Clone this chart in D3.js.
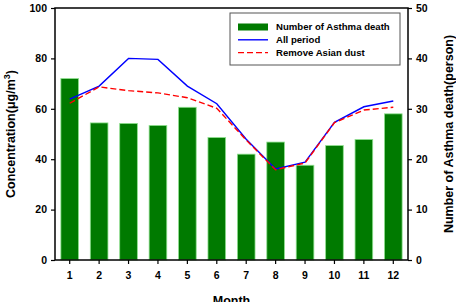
<!DOCTYPE html>
<meta charset="utf-8">
<style>
body { margin: 0; background: #fff; }
text { font-family: "Liberation Sans", Arial, sans-serif; font-weight: bold; }
</style>
<body>
<script src="https://cdn.jsdelivr.net/npm/d3@7"></script>
<script>

var months = [1, 2, 3, 4, 5, 6, 7, 8, 9, 10, 11, 12];
var deaths = [36, 27.2, 27.1, 26.7, 30.3, 24.3, 21, 23.4, 18.8, 22.7, 23.9, 29];
var allPeriod = [63.8, 69, 80, 79.6, 69, 62, 47.9, 36.1, 38.8, 54.6, 60.8, 63.1];
var removeDust = [62.2, 68.7, 67.2, 66.3, 64.4, 60.2, 47.6, 35.8, 38.5, 54.5, 59.5, 60.6];
var leftTicks = [0, 20, 40, 60, 80, 100];
var rightTicks = [0, 10, 20, 30, 40, 50];

var width = 456, height = 302;
var margin = {top: 8, right: 48, bottom: 42, left: 55};
var w = width - margin.left - margin.right,
    h = height - margin.top - margin.bottom;

var svg = d3.select("body").append("svg")
    .attr("width", width)
    .attr("height", height);

var g = svg.append("g")
    .attr("transform", "translate(" + margin.left + "," + margin.top + ")");

var x = d3.scaleBand().domain(months).range([0, w]).paddingInner(0.4).paddingOuter(0.2);
var xc = function(d) { return x(d) + x.bandwidth() / 2; };
var y = d3.scaleLinear().domain([0, 100]).range([h, 0]);
var y2 = d3.scaleLinear().domain([0, 50]).range([h, 0]);

// bars (right axis)
g.selectAll("rect.bar")
    .data(months)
  .enter().append("rect")
    .attr("class", "bar")
    .attr("x", function(d) { return x(d); })
    .attr("width", x.bandwidth())
    .attr("y", function(d, i) { return y2(deaths[i]); })
    .attr("height", function(d, i) { return h - y2(deaths[i]); })
    .style("fill", "#007a00")
    .style("stroke", "#8fe08f")
    .style("stroke-width", 0.8);

var line = d3.line()
    .x(function(d, i) { return xc(months[i]); })
    .y(function(d) { return y(d); });

g.append("path")
    .datum(allPeriod)
    .attr("d", line)
    .style("fill", "none")
    .style("stroke", "#0000ff")
    .style("stroke-width", 1.4);

g.append("path")
    .datum(removeDust)
    .attr("d", line)
    .style("fill", "none")
    .style("stroke", "#ff0000")
    .style("stroke-width", 1.4)
    .style("stroke-dasharray", "6,3");

// axes
var axisFont = function(sel) {
  sel.selectAll("text").style("font-size", "10.5px").style("font-weight", "bold")
     .style("font-family", "'Liberation Sans', Arial, sans-serif").style("fill", "#000");
  sel.select(".domain").remove();
  sel.selectAll("line").style("stroke", "#000").style("stroke-width", 1.2);
};

g.append("g")
    .attr("transform", "translate(0," + h + ")")
    .call(d3.axisBottom(x).tickSize(4).tickPadding(8))
    .call(axisFont);

g.append("g")
    .call(d3.axisLeft(y).tickValues(leftTicks).tickSize(4).tickPadding(4))
    .call(axisFont);

g.append("g")
    .attr("transform", "translate(" + w + ",0)")
    .call(d3.axisRight(y2).tickValues(rightTicks).tickSize(4).tickPadding(4))
    .call(axisFont);

// frame
g.append("rect")
    .attr("width", w)
    .attr("height", h)
    .style("fill", "none")
    .style("stroke", "#000")
    .style("stroke-width", 1.5);

// axis titles
svg.append("text")
    .attr("transform", "translate(15," + (margin.top + h / 2) + ") rotate(-90)")
    .attr("text-anchor", "middle")
    .style("font-size", "12.5px")
    .html("Concentration(&#956;g/m<tspan dy='-5' font-size='9px'>3</tspan><tspan dy='5'>)</tspan>");

svg.append("text")
    .attr("transform", "translate(449," + (margin.top + h / 2) + ") rotate(-90)")
    .attr("text-anchor", "middle")
    .attr("dy", "0.35em")
    .style("font-size", "12.5px")
    .text("Number of Asthma death(person)");

svg.append("text")
    .attr("x", margin.left + w / 2)
    .attr("y", 305)
    .attr("text-anchor", "middle")
    .style("font-size", "12.5px")
    .text("Month");

// legend
var legend = svg.append("g").attr("transform", "translate(230,13)");
legend.append("rect")
    .attr("width", 170)
    .attr("height", 52)
    .style("fill", "#fff")
    .style("stroke", "#555")
    .style("stroke-width", 1);

var items = ["Number of Asthma death", "All period", "Remove Asian dust"];
items.forEach(function(t, i) {
  var yy = 14 + i * 12.8;
  if (i === 0) {
    legend.append("rect").attr("x", 8).attr("y", yy - 3.5).attr("width", 30).attr("height", 7)
        .style("fill", "#007a00");
  } else {
    legend.append("line").attr("x1", 8).attr("x2", 38).attr("y1", yy).attr("y2", yy)
        .style("stroke", i === 1 ? "#0000ff" : "#ff0000")
        .style("stroke-width", 1.4)
        .style("stroke-dasharray", i === 2 ? "6,3" : null);
  }
  legend.append("text").attr("x", 46).attr("y", yy).attr("dy", "0.35em")
      .style("font-size", "9.6px")
      .text(t);
});

</script>
</body>
